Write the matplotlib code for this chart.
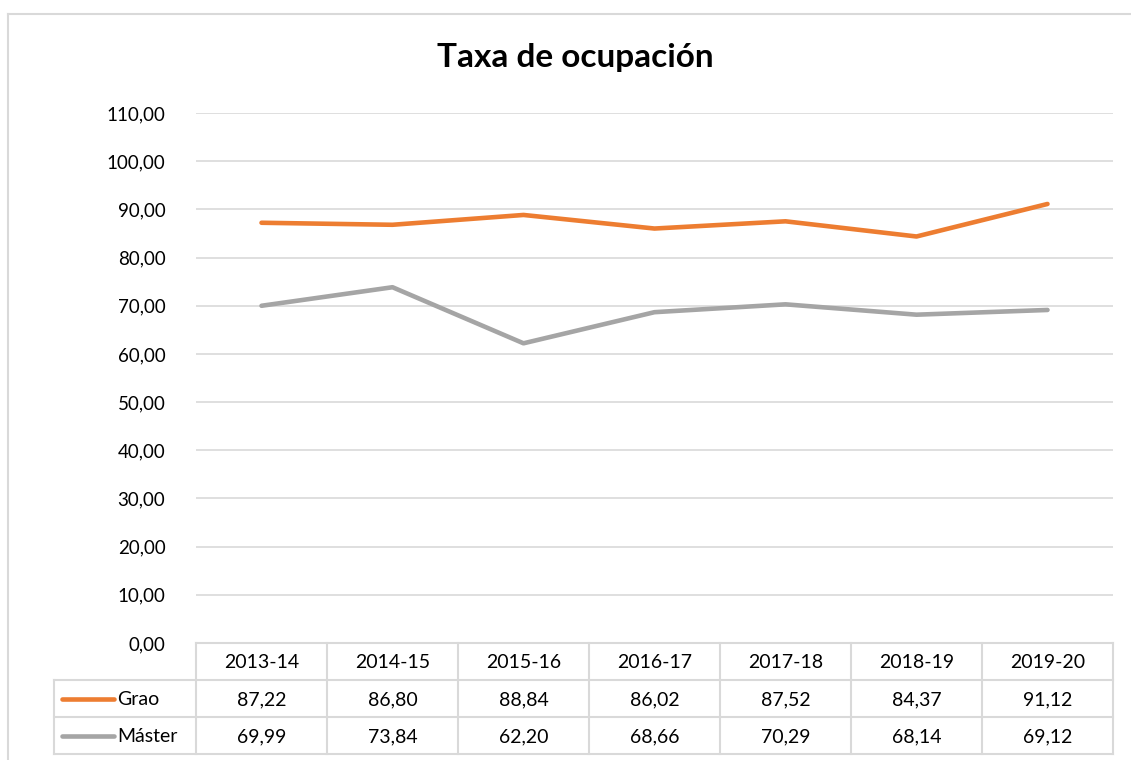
import numpy as np
import matplotlib.pyplot as plt
from matplotlib.lines import Line2D

# Chart data
years = ['2013-14', '2014-15', '2015-16', '2016-17', '2017-18', '2018-19', '2019-20']
grao = [87.22, 86.80, 88.84, 86.02, 87.52, 84.37, 91.12]
master = [69.99, 73.84, 62.20, 68.66, 70.29, 68.14, 69.12]
series_names = ['Grao', 'Máster']
series_colors = ['#ED7D31', '#A5A5A5']

plt.rcParams['font.family'] = ['Lato', 'DejaVu Sans']
FS = 14

W, H = 1131, 760
fig = plt.figure(figsize=(W / 100, H / 100), dpi=100)

def fx(px):
    return px / W

def fy(py):
    return 1 - py / H

# plot area in pixels
left, right, top, bottom = 196, 1113, 113, 643
ax = fig.add_axes([fx(left), fy(bottom), fx(right - left), (bottom - top) / H])

x = np.arange(len(years))
for vals, c in zip([grao, master], series_colors):
    ax.plot(x, vals, color=c, lw=3.3, solid_capstyle='round', solid_joinstyle='round')

ax.set_xlim(-0.5, len(years) - 0.5)
ax.set_ylim(0, 110)
ax.set_yticks(np.arange(0, 111, 10))
ax.set_yticklabels([f'{v:.2f}'.replace('.', ',') for v in np.arange(0, 111, 10)], fontsize=FS - 0.5, color='#000000')
ax.set_xticks([])
ax.tick_params(axis='y', length=0, pad=22)
ax.grid(axis='y', color='#D9D9D9', lw=1.2)
ax.set_axisbelow(True)
for s in ax.spines.values():
    s.set_visible(False)

fig.text(fx(575), fy(58), 'Taxa de ocupación', ha='center', va='center',
         fontsize=24, fontweight='bold', color='#000000')

# outer chart border
border = '#D9D9D9'
fig.add_artist(Line2D([fx(8), fx(8)], [fy(14), fy(762)], color=border, lw=1.5))
fig.add_artist(Line2D([fx(8), fx(1135)], [fy(14), fy(14)], color=border, lw=1.5))

# data table
col_w = (right - left) / len(years)
row_h = 37
rows_y = [bottom, bottom + row_h, bottom + 2 * row_h, bottom + 3 * row_h]
lbl_left = 54
tl = dict(color=border, lw=1.5)
# horizontal lines
fig.add_artist(Line2D([fx(left), fx(right)], [fy(rows_y[0])] * 2, **tl))
for yy in rows_y[1:]:
    fig.add_artist(Line2D([fx(lbl_left), fx(right)], [fy(yy)] * 2, **tl))
# vertical lines
fig.add_artist(Line2D([fx(lbl_left)] * 2, [fy(rows_y[1]), fy(rows_y[3])], **tl))
for i in range(len(years) + 1):
    xx = left + i * col_w
    fig.add_artist(Line2D([fx(xx)] * 2, [fy(rows_y[0]), fy(rows_y[3])], **tl))

for i, yr in enumerate(years):
    cx = left + (i + 0.5) * col_w
    fig.text(fx(cx), fy(rows_y[0] + row_h / 2 + 1), yr, ha='center', va='center', fontsize=FS)
    for r, vals in enumerate([grao, master]):
        fig.text(fx(cx), fy(rows_y[r + 1] + row_h / 2 + 1), f'{vals[i]:.2f}'.replace('.', ','),
                 ha='center', va='center', fontsize=FS)

for r, (name, c) in enumerate(zip(series_names, series_colors)):
    cy = rows_y[r + 1] + row_h / 2
    fig.add_artist(Line2D([fx(62), fx(114)], [fy(cy)] * 2, color=c, lw=3.3, solid_capstyle='round'))
    fig.text(fx(117), fy(cy + 1), name, ha='left', va='center', fontsize=FS)

fig.savefig('out.png', dpi=100)
